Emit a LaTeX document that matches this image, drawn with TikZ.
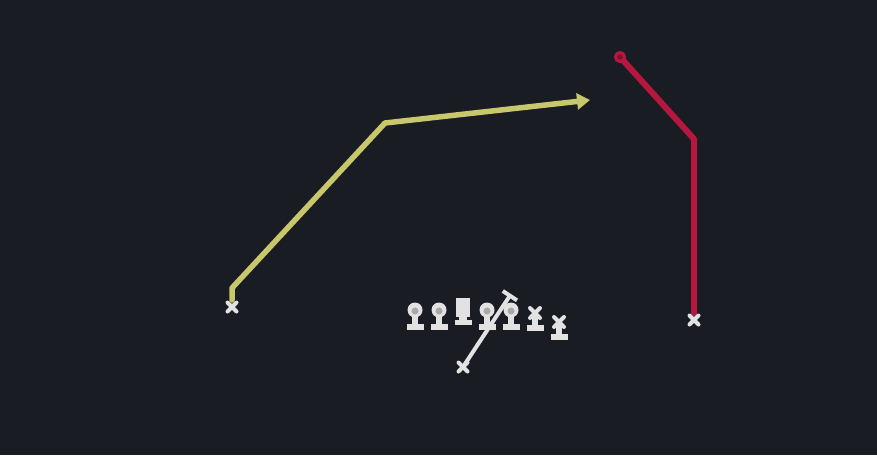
\documentclass[tikz,border=0pt]{standalone}
\usetikzlibrary{arrows.meta}
\definecolor{fieldbg}{HTML}{191C23}
\definecolor{routeyellow}{HTML}{C9C76B}
\definecolor{routered}{HTML}{B5173F}
\definecolor{playerwhite}{HTML}{E2E2E2}
\definecolor{maskgray}{HTML}{A8A8A8}
\tikzset{
	yroute/.style={draw=routeyellow, line width=5.5pt, line join=round, line cap=round, -{Triangle[length=13pt,width=16pt]}},
	rroute/.style={draw=routered, line width=6pt, line join=round, line cap=round},
	droproute/.style={draw=playerwhite, line width=4pt, line cap=round, -{Bar[width=17pt,line width=4pt]}},
	xmark/.style={draw=playerwhite, line width=4pt, line cap=round},
	pics/lineman/.style={code={
		\fill[playerwhite] (-3,0) rectangle (3,17);
		\fill[playerwhite] (-8.5,14) rectangle (8.5,20);
		\fill[playerwhite] (0,0) circle (7.5);
		\fill[maskgray] (0,1) circle (3.5);
	}},
	pics/centre/.style={code={
		\fill[playerwhite] (-7,-12) rectangle (7,7);
		\fill[playerwhite] (-4,6) rectangle (4,12);
		\fill[playerwhite] (-8.5,10) rectangle (8.5,15);
	}},
	pics/cross/.style={code={
		\draw[xmark] (-4.5,-4.5) -- (4.5,4.5);
		\draw[xmark] (-4.5,4.5) -- (4.5,-4.5);
	}},
	pics/endman/.style={code={
		\draw[xmark] (-5,-5) -- (5,5);
		\draw[xmark] (-5,5) -- (5,-5);
		\fill[playerwhite] (-3,3) rectangle (3,15);
		\fill[playerwhite] (-8.5,12) rectangle (8.5,18);
	}}
}
\begin{document}
\begin{tikzpicture}[x=1pt, y=-1pt]
	\fill[fieldbg] (0,0) rectangle (877,455);
	\useasboundingbox (0,0) rectangle (877,455);
	% line
	\coordinate (lt) at (415,310);
	\coordinate (lg) at (439,310);
	\coordinate (c) at (463,310);
	\coordinate (rg) at (487,310);
	\coordinate (rt) at (511,310);
	\coordinate (te) at (535,313);
	\coordinate (wing) at (559,322);
	\pic at (lt) {lineman};
	\pic at (lg) {lineman};
	\pic at (c) {centre};
	\pic at (rg) {lineman};
	\pic at (rt) {lineman};
	\pic at (te) {endman};
	\pic at (wing) {endman};
	% quarterback drop
	\coordinate (qb) at (463,367);
	\coordinate (qbend) at (511,294);
	\draw[droproute] (qb) -- (qbend);
	\pic at (qb) {cross};
	% wide receivers
	\coordinate (wrl) at (232,307);
	\coordinate (wrlup) at (232,288);
	\coordinate (wrlbreak) at (385,123);
	\coordinate (wrlend) at (590,100);
	\draw[yroute] (232,300) -- (wrlup) -- (wrlbreak) -- (wrlend);
	\pic at (wrl) {cross};
	\coordinate (wrr) at (694,320);
	\coordinate (wrrbreak) at (694,139);
	\coordinate (wrrend) at (620,57);
	\draw[rroute] (694,313) -- (wrrbreak) -- (wrrend);
	\draw[draw=routered, fill=routered!70!black, line width=3pt] (wrrend) circle (4.5);
	\pic at (wrr) {cross};
\end{tikzpicture}
\end{document}
